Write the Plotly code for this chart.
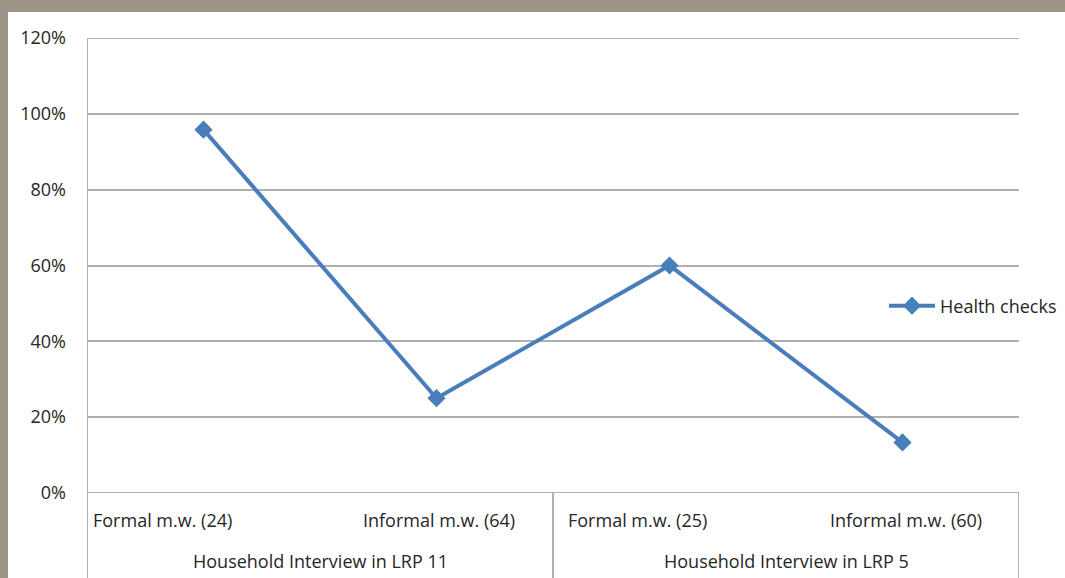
import plotly.graph_objects as go

# Share of respondents reporting health checks, by group
categories = ["Formal m.w. (24)", "Informal m.w. (64)", "Formal m.w. (25)", "Informal m.w. (60)"]
groups = ["Household Interview in LRP 11", "Household Interview in LRP 5"]
health_checks = [23 / 24, 16 / 64, 15 / 25, 8 / 60]
y_ticks = [0, 0.2, 0.4, 0.6, 0.8, 1.0, 1.2]

W, H = 1065, 578
L, R, T, B = 87, 46, 38, 85
FONT = "Open Sans"
FS = 18
TXT = "#262626"
GRID = "#b0b0b0"
FRAME = "#9c9486"

xs = list(range(len(categories)))

fig = go.Figure()
fig.add_trace(go.Scatter(
    x=xs, y=health_checks, mode="lines+markers", name="Health checks",
    line=dict(color="#4a7ebb", width=4),
    marker=dict(symbol="diamond", size=14, color="#4a7ebb"),
))

pw, ph = W - L - R, H - T - B

def px_x(p):
    return (p - L) / pw

def px_y(p):
    return (H - B - p) / ph

shapes = [
    # outer frame bands
    dict(type="rect", xref="paper", yref="paper", x0=px_x(-5), x1=px_x(W + 5),
         y0=px_y(12), y1=px_y(-5), fillcolor=FRAME, line_width=0, layer="below"),
    dict(type="rect", xref="paper", yref="paper", x0=px_x(-5), x1=px_x(8),
         y0=px_y(H + 5), y1=px_y(-5), fillcolor=FRAME, line_width=0, layer="below"),
]
# gridlines at the ends of the value range
for yv in [y_ticks[0], y_ticks[-1]]:
    shapes.append(dict(type="line", xref="paper", yref="y", x0=0, x1=1, y0=yv, y1=yv,
                       line=dict(color=GRID, width=2), layer="below"))
# category-axis dividers below the plot
for xv in [-0.5, 1.5, 3.5]:
    shapes.append(dict(type="line", xref="x", yref="paper", x0=xv, x1=xv,
                       y0=px_y(H + 2), y1=0, line=dict(color=GRID, width=2)))
# left axis line
shapes.append(dict(type="line", xref="x", yref="paper", x0=-0.5, x1=-0.5,
                   y0=0, y1=1, line=dict(color=GRID, width=2), layer="below"))

annotations = []
shifts = [-41, 2, -32, 3]
for i, (c, s) in enumerate(zip(categories, shifts)):
    annotations.append(dict(x=i, y=px_y(520), xref="x", yref="paper", text=c,
                            showarrow=False, xanchor="center", yanchor="middle",
                            xshift=s, font=dict(family=FONT, size=FS, color=TXT)))
for g, xc in zip(groups, [0.5, 2.5]):
    annotations.append(dict(x=xc, y=px_y(561), xref="x", yref="paper", text=g,
                            showarrow=False, xanchor="center", yanchor="middle",
                            font=dict(family=FONT, size=FS, color=TXT)))

fig.update_layout(
    width=W, height=H,
    margin=dict(l=L, r=R, t=T, b=B, pad=0, autoexpand=False),
    paper_bgcolor="white", plot_bgcolor="white",
    showlegend=True,
    legend=dict(x=px_x(884), y=px_y(306), xanchor="left", yanchor="middle",
                font=dict(family=FONT, size=FS, color=TXT), bgcolor="rgba(0,0,0,0)",
                itemwidth=46),
    xaxis=dict(range=[-0.5, 3.5], showgrid=False, zeroline=False, showline=False,
               showticklabels=False, ticks=""),
    yaxis=dict(range=[0, 1.2], tickvals=y_ticks, tickformat=".0%",
               showgrid=True, gridcolor=GRID, gridwidth=2, zeroline=False,
               showline=False, ticks="", ticklabelstandoff=20,
               tickfont=dict(family=FONT, size=FS, color=TXT)),
    shapes=shapes, annotations=annotations,
)

fig.write_html("out.html")
